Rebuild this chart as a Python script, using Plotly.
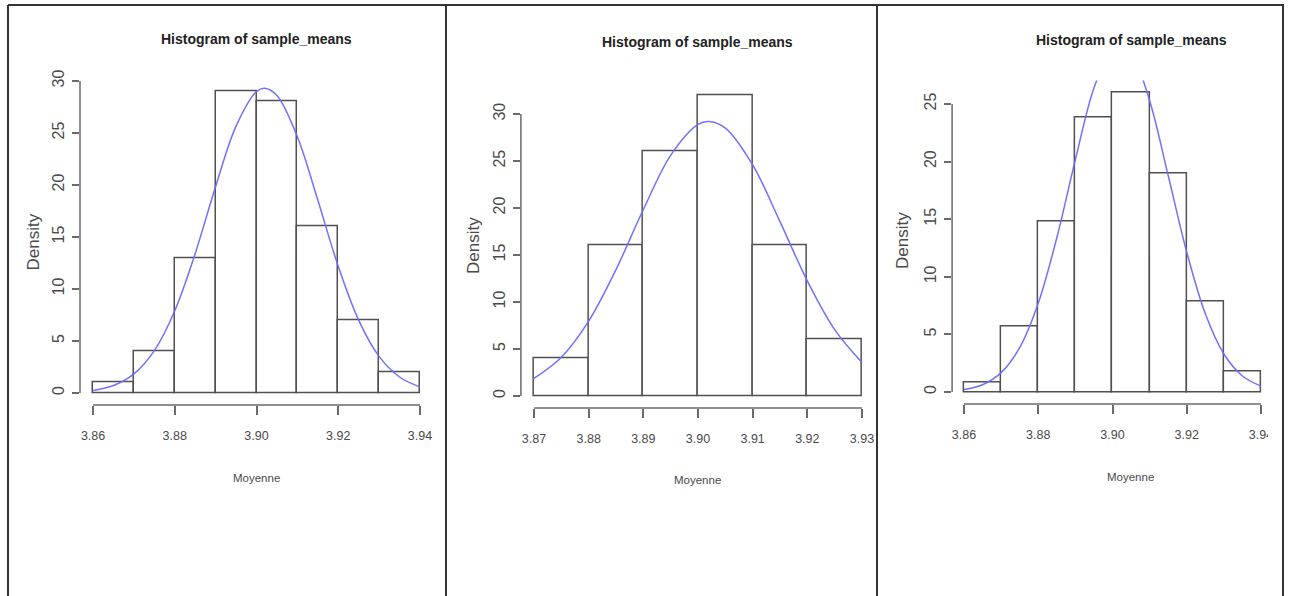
import plotly.graph_objects as go

# ---------------- data ----------------
edges1 = [3.86, 3.87, 3.88, 3.89, 3.90, 3.91, 3.92, 3.93, 3.94]
dens1 = [1, 4, 13, 29, 28, 16, 7, 2]
curve_x1 = [3.860, 3.865, 3.870, 3.875, 3.880, 3.885, 3.890, 3.895, 3.900, 3.902,
            3.905, 3.910, 3.915, 3.920, 3.925, 3.930, 3.935, 3.940]
curve_y1 = [0.25, 0.72, 1.84, 4.08, 7.91, 13.42, 19.86, 25.66, 28.98, 29.30,
            28.60, 24.64, 18.55, 12.20, 7.01, 3.52, 1.54, 0.59]
xticks1 = [3.86, 3.88, 3.90, 3.92, 3.94]
xlabels1 = ["3.86", "3.88", "3.90", "3.92", "3.94"]
yticks1 = [0, 5, 10, 15, 20, 25, 30]

edges2 = [3.87, 3.88, 3.89, 3.90, 3.91, 3.92, 3.93]
dens2 = [4, 16, 26, 32, 16, 6]
curve_x2 = [3.870, 3.875, 3.880, 3.885, 3.890, 3.895, 3.900, 3.902,
            3.905, 3.910, 3.915, 3.920, 3.925, 3.930]
curve_y2 = [1.87, 4.13, 7.97, 13.45, 19.84, 25.60, 28.89, 29.20,
            28.50, 24.59, 18.55, 12.24, 7.06, 3.56]
xticks2 = [3.87, 3.88, 3.89, 3.90, 3.91, 3.92, 3.93]
xlabels2 = ["3.87", "3.88", "3.89", "3.90", "3.91", "3.92", "3.93"]
yticks2 = [0, 5, 10, 15, 20, 25, 30]

edges3 = [3.86, 3.87, 3.88, 3.89, 3.90, 3.91, 3.92, 3.93, 3.94]
dens3 = [0.85, 5.7, 14.8, 23.8, 26.0, 19.0, 7.9, 1.8]
curve_x3 = [3.860, 3.865, 3.870, 3.875, 3.880, 3.885, 3.890, 3.895, 3.900, 3.902,
            3.905, 3.910, 3.915, 3.920, 3.925, 3.930, 3.935, 3.940]
curve_y3 = [0.21, 0.63, 1.68, 3.86, 7.71, 13.39, 20.17, 26.38, 29.96, 30.30,
            29.54, 25.29, 18.79, 12.13, 6.79, 3.30, 1.39, 0.51]
xticks3 = [3.86, 3.88, 3.90, 3.92, 3.94]
xlabels3 = ["3.86", "3.88", "3.90", "3.92", "3.94"]
yticks3 = [0, 5, 10, 15, 20, 25]

title_text = "Histogram of sample_means"
xlab = "Moyenne"
ylab = "Density"

# ---------------- layout constants ----------------
W, H = 1290, 596
FONT = "Liberation Sans, Arial, sans-serif"
BAR_LINE = "#505050"
AXIS_COL = "#6a6a6a"
TEXT_COL = "#4a4a4a"
CURVE_COL = "rgba(105,105,255,0.95)"

# pixel boxes of plot regions (left, right, top, bottom)
boxes = [(80, 433, 79.3, 405.1), (520.9, 875.1, 83.2, 408.0), (952.1, 1272.9, 80.5, 404.0)]
title_pos = [(256, 39), (697, 42), (1131, 40)]
ylab_pos = [(32.5, 242), (473, 245), (903, 240)]
xlab_pos = [(256, 478), (697, 480), (1130, 477)]

panels = [
    (edges1, dens1, curve_x1, curve_y1, xticks1, xlabels1, yticks1),
    (edges2, dens2, curve_x2, curve_y2, xticks2, xlabels2, yticks2),
    (edges3, dens3, curve_x3, curve_y3, xticks3, xlabels3, yticks3),
]

fig = go.Figure()
shapes = []
annotations = []

for i, (edges, dens, cx, cy, xt, xl, yt) in enumerate(panels):
    n = "" if i == 0 else str(i + 1)
    xa, ya = "x" + n, "y" + n
    centers = [(a + b) / 2 for a, b in zip(edges[:-1], edges[1:])]
    widths = [b - a for a, b in zip(edges[:-1], edges[1:])]
    fig.add_trace(go.Bar(
        x=centers, y=dens, width=widths, xaxis=xa, yaxis=ya,
        marker=dict(color="white", line=dict(color=BAR_LINE, width=1.5)),
        showlegend=False, hoverinfo="x+y",
    ))
    fig.add_trace(go.Scatter(
        x=cx, y=cy, mode="lines", xaxis=xa, yaxis=ya,
        line=dict(color=CURVE_COL, width=1.5, shape="spline"),
        showlegend=False,
    ))
    # R-style ranges: data range extended by 4% on each side
    span = edges[-1] - edges[0]
    xr = [edges[0] - 0.04 * span, edges[-1] + 0.04 * span]
    ymax = max(dens)
    yr = [-0.04 * ymax, ymax * 1.04]
    l, r, t, b = boxes[i]
    xdom = [l / W, r / W]
    ydom = [1 - b / H, 1 - t / H]
    fig.update_layout(**{
        "xaxis" + n: dict(
            domain=xdom, range=xr, anchor=ya, tickmode="array", tickvals=xt, ticktext=xl,
            ticks="outside", ticklen=9, tickwidth=1.5, tickcolor=AXIS_COL,
            showgrid=False, zeroline=False, showline=False, automargin=False,
            tickfont=dict(family=FONT, size=12.5, color=TEXT_COL),
            ticklabelstandoff=10, fixedrange=True,
        ),
        "yaxis" + n: dict(
            domain=ydom, range=yr, anchor=xa, tickmode="array", tickvals=yt,
            ticktext=[str(v) for v in yt],
            ticks="outside", ticklen=7, tickwidth=1.5, tickcolor=AXIS_COL,
            showgrid=False, zeroline=False, showline=False, tickangle=-90, automargin=False,
            tickfont=dict(family=FONT, size=16, color=TEXT_COL),
            ticklabelstandoff=2, fixedrange=True,
        ),
    })
    # R-style axis lines spanning first..last tick
    shapes.append(dict(type="line", xref=xa, yref=ya + " domain", x0=xt[0], x1=xt[-1], y0=0, y1=0,
                       line=dict(color=AXIS_COL, width=1.5)))
    shapes.append(dict(type="line", xref=xa + " domain", yref=ya, x0=0, x1=0, y0=yt[0], y1=yt[-1],
                       line=dict(color=AXIS_COL, width=1.5)))
    tx, ty = title_pos[i]
    annotations.append(dict(text="<b>" + title_text + "</b>", x=tx / W, y=1 - ty / H, xref="paper", yref="paper",
                            xanchor="center", yanchor="middle", showarrow=False,
                            font=dict(family=FONT, size=14, color="#222222")))
    lx, ly = ylab_pos[i]
    annotations.append(dict(text=ylab, x=lx / W, y=1 - ly / H, xref="paper", yref="paper",
                            xanchor="center", yanchor="middle", showarrow=False, textangle=-90,
                            font=dict(family=FONT, size=17, color=TEXT_COL)))
    mx, my = xlab_pos[i]
    annotations.append(dict(text=xlab, x=mx / W, y=1 - my / H, xref="paper", yref="paper",
                            xanchor="center", yanchor="middle", showarrow=False,
                            font=dict(family=FONT, size=11.5, color=TEXT_COL)))

# crop of the third picture (cuts its last tick label)
shapes.append(dict(type="rect", xref="paper", yref="paper", x0=1268 / W, x1=1281 / W,
                   y0=1 - 455 / H, y1=1 - 418 / H, fillcolor="white", line=dict(width=0), layer="above"))

# frame of the three screenshots
FRAME = "#333333"
shapes.append(dict(type="line", xref="paper", yref="paper", x0=8 / W, x1=1284 / W, y0=1 - 5 / H, y1=1 - 5 / H,
                   line=dict(color=FRAME, width=2)))
for px in [8, 446, 877, 1283]:
    shapes.append(dict(type="line", xref="paper", yref="paper", x0=px / W, x1=px / W, y0=0, y1=1 - 5 / H,
                       line=dict(color=FRAME, width=2)))

fig.update_layout(
    width=W, height=H, margin=dict(l=0, r=0, t=0, b=0, pad=0, autoexpand=False),
    paper_bgcolor="white", plot_bgcolor="white",
    shapes=shapes, annotations=annotations, bargap=0, showlegend=False,
)

fig.write_html("out.html", config={"displayModeBar": False})
